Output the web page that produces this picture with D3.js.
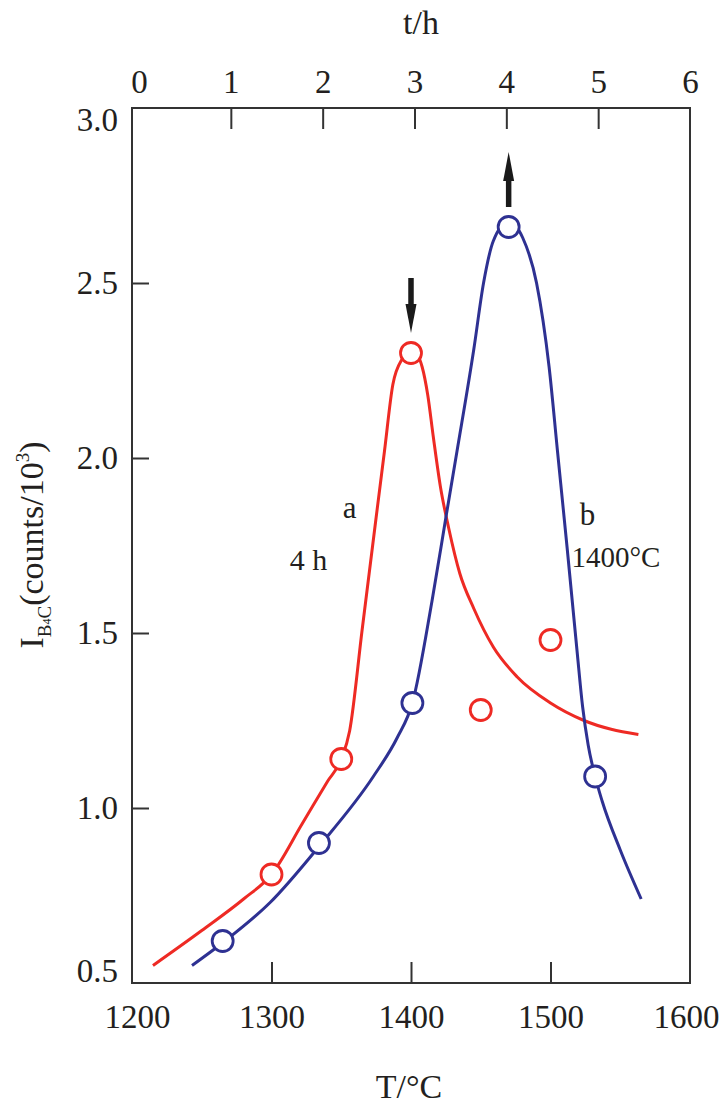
<!DOCTYPE html>
<html>
<head>
<meta charset="utf-8">
<script src="https://cdn.jsdelivr.net/npm/d3@7"></script>
<style>
  body { margin: 0; background: #fff; }
  svg { display: block; }
  svg text { font-family: "Liberation Serif", serif; }
</style>
</head>
<body>
<div id="chart"></div>
<script>
const tempTicks = [1200, 1300, 1400, 1500, 1600];
const timeTicks = [0, 1, 2, 3, 4, 5, 6];
const intensityTicks = [0.5, 1.0, 1.5, 2.0, 2.5, 3.0];

// curve a (4 h) : measured points
const aTemp = [1300, 1350, 1400, 1450, 1500];
const aIntensity = [0.81, 1.14, 2.30, 1.28, 1.48];
// curve a : drawn line
const aLineTemp = [1215, 1250, 1280, 1300, 1322, 1340, 1350, 1356, 1365, 1375, 1381, 1387, 1394, 1401, 1408, 1412, 1416, 1421, 1427, 1435, 1445, 1459, 1476, 1500, 1524, 1563];
const aLineIntensity = [0.55, 0.65, 0.74, 0.81, 0.955, 1.075, 1.14, 1.22, 1.51, 1.83, 2.02, 2.21, 2.285, 2.31, 2.26, 2.18, 2.06, 1.92, 1.80, 1.67, 1.57, 1.46, 1.375, 1.30, 1.25, 1.21];

// curve b (1400 °C) : measured points
const bTemp = [1265, 1334, 1401, 1470, 1532];
const bIntensity = [0.62, 0.90, 1.30, 2.66, 1.09];
// curve b : drawn line
const bLineTemp = [1243, 1265, 1299, 1334, 1373, 1390, 1401, 1415, 1425, 1433, 1445, 1452, 1459, 1470, 1480, 1490, 1499, 1505, 1512, 1519, 1523, 1527, 1532, 1537, 1550, 1565];
const bLineIntensity = [0.55, 0.615, 0.73, 0.89, 1.09, 1.20, 1.30, 1.59, 1.83, 2.02, 2.31, 2.50, 2.62, 2.675, 2.63, 2.50, 2.26, 2.02, 1.74, 1.45, 1.29, 1.18, 1.09, 1.02, 0.88, 0.74];

const width = 724;
const height = 1112;
const red = "#ee2a24";
const blue = "#2e3192";
const ink = "#231f20";
const serif = '"Liberation Serif", serif';

const svg = d3
  .select("#chart")
  .append("svg")
  .attr("width", width)
  .attr("height", height)
  .attr("viewBox", [0, 0, width, height]);

const x = d3.scaleLinear().domain([1200, 1600]).range([132, 690]);
const xTop = d3.scaleLinear().domain([0, 6]).range([139, 690]);
const y = d3.scaleLinear().domain([0.5, 3.0]).range([983, 108]);

const line = d3
  .line()
  .x((d) => x(d[0]))
  .y((d) => y(d[1]))
  .curve(d3.curveMonotoneX);

// frame
svg
  .append("rect")
  .attr("x", x(1200))
  .attr("y", y(3.0))
  .attr("width", x(1600) - x(1200))
  .attr("height", y(0.5) - y(3.0))
  .attr("fill", "none")
  .attr("stroke", "#333")
  .attr("stroke-width", 2);

const styleAxis = (g, first, last) => {
  g.attr("font-family", null).attr("font-size", null);
  g.select(".domain").remove();
  g.selectAll(".tick line").attr("stroke", "#333").attr("stroke-width", 2);
  g.selectAll(".tick text")
    .attr("fill", ink)
    .style("font-family", serif)
    .style("font-size", "33px");
  g.selectAll(".tick")
    .filter((d) => d === first || d === last)
    .select("line")
    .remove();
};

// bottom axis, T
svg
  .append("g")
  .attr("transform", `translate(0,${y(0.5)})`)
  .call(d3.axisBottom(x).tickValues(tempTicks).tickSize(-21).tickPadding(22).tickFormat(d3.format("d")))
  .call((g) => styleAxis(g, 1200, 1600))
  .call((g) => g.selectAll(".tick text").filter((d) => d === 1200).attr("x", 5))
  .call((g) => g.selectAll(".tick text").filter((d) => d === 1600).attr("x", -4))
  .call((g) =>
    g
      .append("text")
      .attr("x", 409)
      .attr("y", 115)
      .attr("fill", ink)
      .style("font-family", serif)
      .style("font-size", "34px")
      .attr("text-anchor", "middle")
      .text("T/°C")
  );

// top axis, t
svg
  .append("g")
  .attr("transform", `translate(0,${y(3.0)})`)
  .call(d3.axisTop(xTop).tickValues(timeTicks).tickSize(-21).tickPadding(15).tickFormat(d3.format("d")))
  .call((g) => styleAxis(g, 0, 6))
  .call((g) =>
    g
      .append("text")
      .attr("x", 421)
      .attr("y", -74)
      .attr("fill", ink)
      .style("font-family", serif)
      .style("font-size", "34px")
      .attr("text-anchor", "middle")
      .text("t/h")
  );

// left axis, intensity
svg
  .append("g")
  .attr("transform", `translate(${x(1200)},0)`)
  .call(d3.axisLeft(y).tickValues(intensityTicks).tickSize(-17).tickPadding(14).tickFormat(d3.format(".1f")))
  .call((g) => styleAxis(g, 0.5, 3.0))
  .call((g) => g.selectAll(".tick text").filter((d) => d === 3.0).attr("y", 12))
  .call((g) => g.selectAll(".tick text").filter((d) => d === 0.5).attr("y", -12));

const ylab = svg
  .append("text")
  .attr("transform", "translate(43,545) rotate(-90)")
  .attr("text-anchor", "middle")
  .attr("fill", ink)
  .style("font-family", serif)
  .style("font-size", "34px");
ylab.append("tspan").text("I");
ylab.append("tspan").style("font-size", "19px").attr("dy", 8).text("B");
ylab.append("tspan").style("font-size", "12px").text("4");
ylab.append("tspan").style("font-size", "19px").text("C");
ylab.append("tspan").attr("dy", -8).text("(counts/10");
ylab.append("tspan").style("font-size", "19px").attr("dy", -14).text("3");
ylab.append("tspan").attr("dy", 14).text(")");

// curves
const series = [
  { color: red, lineT: aLineTemp, lineI: aLineIntensity, t: aTemp, i: aIntensity },
  { color: blue, lineT: bLineTemp, lineI: bLineIntensity, t: bTemp, i: bIntensity },
];

series.forEach((s) => {
  svg
    .append("path")
    .attr("fill", "none")
    .attr("stroke", s.color)
    .attr("stroke-width", 3)
    .attr("stroke-linejoin", "round")
    .attr("d", line(d3.zip(s.lineT, s.lineI)));
});

series.forEach((s) => {
  svg
    .append("g")
    .selectAll("circle")
    .data(d3.zip(s.t, s.i))
    .join("circle")
    .attr("cx", (d) => x(d[0]))
    .attr("cy", (d) => y(d[1]))
    .attr("r", 10.5)
    .attr("fill", "#fff")
    .attr("stroke", s.color)
    .attr("stroke-width", 2.8);
});

// arrows over the two maxima
const arrow = (px, py, dir) => {
  // dir = 1 points down (toward the point), -1 points up (away)
  const near = py - 20;
  const far = py - 75;
  const tip = dir === 1 ? near : far;
  const tail = dir === 1 ? far : near;
  const headBase = tip - dir * 29;
  svg
    .append("line")
    .attr("x1", px)
    .attr("x2", px)
    .attr("y1", tail)
    .attr("y2", headBase)
    .attr("stroke", "#1a1a1a")
    .attr("stroke-width", 5.5);
  svg
    .append("path")
    .attr("fill", "#1a1a1a")
    .attr("d", `M${px - 5.5},${headBase} L${px + 5.5},${headBase} L${px},${tip} Z`);
};
arrow(x(aTemp[2]), y(aIntensity[2]), 1);
arrow(x(bTemp[3]), y(bIntensity[3]), -1);

// curve labels
const note = (t, v, txt, size, anchor) =>
  svg
    .append("text")
    .attr("x", x(t))
    .attr("y", y(v))
    .attr("fill", ink)
    .style("font-family", serif)
    .style("font-size", size + "px")
    .attr("text-anchor", anchor)
    .text(txt);
note(1356, 1.83, "a", 31, "middle");
note(1313, 1.68, "4 h", 30, "start");
note(1521, 1.81, "b", 31, "start");
note(1515, 1.69, "1400°C", 29, "start");
</script>
</body>
</html>
